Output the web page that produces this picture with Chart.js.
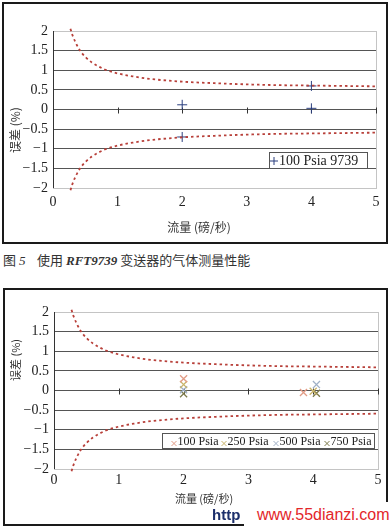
<!DOCTYPE html>
<html>
<head>
<meta charset="utf-8">
<script src="https://cdn.jsdelivr.net/npm/chart.js@4"></script>
<style>
  html, body { margin: 0; padding: 0; background: #fff; }
  body { width: 391px; height: 528px; position: relative; overflow: hidden; }
  .box { position: absolute; box-sizing: border-box; border: 2px solid #1a1a1a; }
  canvas { position: absolute; }
  #caption { position: absolute; left: 3px; top: 250px; font: 13px "Noto Sans CJK SC", sans-serif; color: #333; white-space: nowrap; }
  #caption i { font-family: "Liberation Serif", serif; }
  #mark1 { position: absolute; left: 212px; top: 506px; font: bold 15px "Liberation Sans", sans-serif; color: #1c2f6b; }
  #mark2 { position: absolute; left: 244px; top: 502px; width: 147px; height: 26px; background: #fff;
           font: 16px "Liberation Sans", sans-serif; color: #e3262a; line-height: 26px; padding-left: 13px; box-sizing: border-box; }
</style>
</head>
<body>
<div class="box" style="left:2px;top:2px;width:386px;height:242px"></div>
<canvas id="c1" width="382" height="238" style="left:4px;top:4px"></canvas>
<div id="caption">图 <i>5</i>&nbsp;&nbsp;&nbsp; 使用 <i><b>RFT9739</b></i> 变送器的气体测量性能</div>
<div class="box" style="left:3px;top:288px;width:385px;height:238px"></div>
<canvas id="c2" width="381" height="234" style="left:5px;top:290px"></canvas>
<div id="mark1">http</div>
<div id="mark2">www.55dianzi.com</div>
<script>
// axes
const xTickValues = [0, 1, 2, 3, 4, 5];
const xTickLabels = ["0", "1", "2", "3", "4", "5"];
const yTickValues = [-2, -1.5, -1, -0.5, 0, 0.5, 1, 1.5, 2];
const yTickLabels = ["\u22122", "\u22121.5", "\u22121", "\u22120.5", "0", "0.5", "1", "1.5", "2"];
const yTitle = "误差 (%)";
const xTitle = "流量 (磅/秒)";

// accuracy limit curves
const curveX = [0.27, 0.3, 0.4, 0.5, 0.6, 0.7, 0.8, 1.0, 1.25, 1.5, 2.0, 2.5, 3.0, 3.5, 4.0, 4.5, 5.0];
const curveUpper = [2.06, 1.9, 1.55, 1.34, 1.2, 1.1, 1.02, 0.92, 0.84, 0.78, 0.71, 0.67, 0.64, 0.62, 0.61, 0.6, 0.59];
const curveLower = [-2.06, -1.9, -1.55, -1.34, -1.2, -1.1, -1.02, -0.92, -0.84, -0.78, -0.71, -0.67, -0.64, -0.62, -0.61, -0.6, -0.59];

// fig 5 : RFT9739 at 100 psia
const series1Labels = ["100 Psia 9739"];
const series1X = [[2.0, 2.0, 4.0, 4.0]];
const series1Y = [[0.12, -0.7, 0.6, 0.03]];

// fig 6 : several pressures
const series2Labels = ["100 Psia", "250 Psia", "500 Psia", "750 Psia"];
const series2X = [[2.0, 3.85], [2.0, 4.0], [2.0, 4.05], [2.0, 4.05]];
const series2Y = [[0.3, -0.05], [0.15, -0.02], [0.02, 0.15], [-0.08, -0.07]];

const C = {
  ink: "#222",
  grid: "#555",
  frame: "#c4c4c4",
  curve: "#b8403a",
  s1: "#2b3f7f",
  s2: ["#e29c86", "#c9b46a", "#9fb0c6", "#7d7a4a"]
};

const pts = (xs, ys) => xs.map((x, i) => ({ x, y: ys[i] }));

function curveSets() {
  return [curveUpper, curveLower].map(ys => ({
    data: pts(curveX, ys),
    isCurve: true,
    showLine: true,
    borderColor: C.curve,
    borderWidth: 1.8,
    borderDash: [2.5, 3],
    pointRadius: 0,
    cubicInterpolationMode: "monotone",
    clip: false
  }));
}

const framePlugin = {
  id: "frame",
  beforeDatasetsDraw(chart, args, o) {
    const { ctx, chartArea: a, scales } = chart;
    ctx.save();
    ctx.strokeStyle = C.frame;
    ctx.lineWidth = 1;
    ctx.strokeRect(a.left + 0.5, a.top + 0.5, a.right - a.left, a.bottom - a.top);
    ctx.strokeStyle = "#333";
    ctx.beginPath();
    ctx.moveTo(a.left + 0.5, a.top);
    ctx.lineTo(a.left + 0.5, a.bottom);
    // tick marks on the zero line
    const y0 = Math.round(scales.y.getPixelForValue(0)) + 0.5;
    xTickValues.slice(1).forEach(v => {
      const px = Math.round(scales.x.getPixelForValue(v)) + 0.5;
      ctx.moveTo(px, y0 - 3);
      ctx.lineTo(px, y0 + 3);
    });
    ctx.stroke();
    ctx.restore();
  },
  afterDraw(chart, args, o) {
    const ctx = chart.ctx;
    ctx.save();
    ctx.fillStyle = "#333";
    // y title
    ctx.font = o.yFont + ' "Noto Sans CJK SC", sans-serif';
    ctx.textAlign = "center";
    ctx.textBaseline = "middle";
    ctx.translate(o.yTitle[0], o.yTitle[1]);
    ctx.rotate(-Math.PI / 2);
    ctx.fillText(yTitle, 0, 0);
    ctx.setTransform(1, 0, 0, 1, 0, 0);
    // x title
    ctx.font = o.xFont + ' "Noto Sans CJK SC", sans-serif';
    ctx.fillText(xTitle, o.xTitle[0], o.xTitle[1]);
    // legend box
    const L = o.legend;
    ctx.fillStyle = "#fff";
    ctx.fillRect(L.x, L.y, L.w, L.h);
    ctx.strokeStyle = "#555";
    ctx.lineWidth = 1;
    ctx.strokeRect(L.x + 0.5, L.y + 0.5, L.w, L.h);
    ctx.font = L.font + ' "Liberation Serif", serif';
    ctx.textAlign = "left";
    const cy = L.y + L.h / 2 + 1;
    chart.data.datasets.filter(d => !d.isCurve).forEach((d, i) => {
      const mx = L.items[i];
      ctx.strokeStyle = d.borderColor;
      ctx.lineWidth = 1;
      ctx.beginPath();
      const r = L.mark;
      if (d.pointStyle === "cross") {
        ctx.moveTo(mx - r, cy); ctx.lineTo(mx + r, cy);
        ctx.moveTo(mx, cy - r); ctx.lineTo(mx, cy + r);
      } else {
        ctx.moveTo(mx - r, cy - r + 2); ctx.lineTo(mx + r, cy + r + 2);
        ctx.moveTo(mx + r, cy - r + 2); ctx.lineTo(mx - r, cy + r + 2);
      }
      ctx.stroke();
      ctx.fillStyle = C.ink;
      ctx.fillText(d.label, mx + r + 1, cy);
    });
    ctx.restore();
  }
};

function makeChart(id, datasets, pad, yWidth, xHeight, xPad, frameOpts) {
  return new Chart(document.getElementById(id), {
    type: "scatter",
    data: { datasets },
    options: {
      responsive: false,
      animation: false,
      layout: { padding: pad },
      plugins: { legend: { display: false }, tooltip: { enabled: false }, frame: frameOpts },
      scales: {
        x: {
          type: "linear", min: 0, max: 5,
          afterBuildTicks: s => { s.ticks = xTickValues.map(v => ({ value: v })); },
          afterFit: s => { s.height = xHeight; },
          ticks: { callback: (v, i) => xTickLabels[i], color: C.ink, padding: xPad, autoSkip: false,
                   font: { family: "Liberation Serif", size: 14 }, maxRotation: 0 },
          grid: { display: false, drawTicks: false },
          border: { display: false }
        },
        y: {
          type: "linear", min: -2, max: 2,
          afterBuildTicks: s => { s.ticks = yTickValues.map(v => ({ value: v })); },
          afterFit: s => { s.width = yWidth; },
          ticks: { callback: (v, i) => yTickLabels[i], color: C.ink, padding: 5, autoSkip: false,
                   font: { family: "Liberation Serif", size: 14 } },
          grid: { color: c => Math.abs(c.tick.value) === 2 ? C.frame : C.grid, lineWidth: 1, drawTicks: false },
          border: { display: false }
        }
      }
    },
    plugins: [framePlugin]
  });
}

const sets1 = curveSets().concat(series1Labels.map((lab, i) => ({
  label: lab,
  data: pts(series1X[i], series1Y[i]),
  pointStyle: "cross",
  pointRadius: 5,
  borderColor: C.s1,
  borderWidth: 1
})));

const sets2 = curveSets().concat(series2Labels.map((lab, i) => ({
  label: lab,
  data: pts(series2X[i], series2Y[i]),
  pointStyle: "crossRot",
  pointRadius: 5,
  borderColor: C.s2[i],
  borderWidth: 1.3
})));

makeChart("c1", sets1, { top: 27, right: 10, left: 0, bottom: 0 }, 49, 54, 6, {
  yTitle: [11, 126], yFont: "12px", xTitle: [195, 223], xFont: "12px",
  legend: { x: 265, y: 148, w: 98, h: 16, font: "14px", items: [270], mark: 4 }
});

makeChart("c2", sets2, { top: 22, right: 8, left: 0, bottom: 0 }, 49, 55, 3, {
  yTitle: [11, 70], yFont: "11px", xTitle: [199, 209], xFont: "11px",
  legend: { x: 157, y: 143, w: 212, h: 15, font: "12px", items: [169, 219, 271, 322], mark: 2.5 }
});
</script>
</body>
</html>
